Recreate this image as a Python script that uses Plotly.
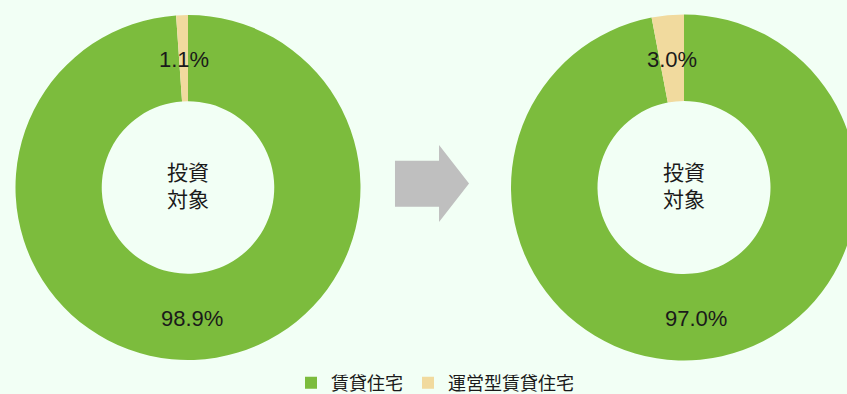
import math
import plotly.graph_objects as go

# the figure is a little wider than the window so that the right ring
# is cut off at the right edge, as in the reference
FW, H = 857, 394

# data
categories = ["賃貸住宅", "運営型賃貸住宅"]
share_before = [98.9, 1.1]
share_after = [97.0, 3.0]
center_label = "投資<br>対象"

colors = ["#7CBC3D", "#F1DA9E"]
bg = "#F2FFF5"

# ring geometry in pixels: centre x, centre y, outer radius
HOLE = 0.5
rings = [(188, 187.5, 172.5), (684, 187.5, 173)]

fig = go.Figure()

for (cx, cy, r), vals in zip(rings, [share_before, share_after]):
    fig.add_trace(go.Pie(
        labels=categories, values=vals, hole=HOLE, sort=False,
        direction="clockwise", rotation=0,
        marker=dict(colors=colors, line=dict(width=0)),
        textinfo="none", hoverinfo="label+percent",
        domain=dict(x=[(cx - r) / FW, min((cx + r) / FW, 1)],
                    y=[1 - (cy + r) / H, 1 - (cy - r) / H]),
        title=dict(text=center_label, position="middle center",
                   font=dict(size=21, color="#1a1a1a", family="Noto Sans CJK JP")),
    ))

    # percentage labels at the middle of each slice, halfway across the ring
    total = sum(vals)
    cum = 0
    rm = r * (1 + HOLE) / 2
    for v in vals:
        th = 2 * math.pi * (cum + v / 2) / total
        cum += v
        px = cx + rm * math.sin(th)
        py = cy - rm * math.cos(th)
        fig.add_annotation(x=px / FW, y=1 - (py + 1.5) / H, xref="paper", yref="paper",
                           xanchor="center", yanchor="middle",
                           text=f"{v:.1f}%", showarrow=False,
                           font=dict(size=22, color="#1a1a1a", family="Liberation Sans"))

# grey block arrow between the two rings
pts = [(395, 160.7), (439, 160.7), (439, 145), (469, 183.5), (439, 222), (439, 206.7), (395, 206.7)]
path = "M " + " L ".join(f"{x / FW:.4f},{1 - y / H:.4f}" for x, y in pts) + " Z"
fig.add_shape(type="path", path=path, xref="paper", yref="paper",
              fillcolor="#BFBFBF", line=dict(width=0))

fig.update_layout(
    width=FW, height=H,
    margin=dict(l=0, r=0, t=0, b=0, autoexpand=False),
    paper_bgcolor=bg, plot_bgcolor=bg,
    showlegend=True,
    legend=dict(orientation="h", x=291 / FW, xanchor="left",
                y=1 - 383 / H, yanchor="middle",
                font=dict(size=18, color="#1a1a1a", family="Noto Sans CJK JP"),
                bgcolor="rgba(0,0,0,0)"),
)

fig.write_html(
    "out.html",
    config={"displayModeBar": False},
    post_script="document.documentElement.style.overflow='hidden';"
                "document.body.style.margin='0';"
                "document.body.style.overflow='hidden';",
)
